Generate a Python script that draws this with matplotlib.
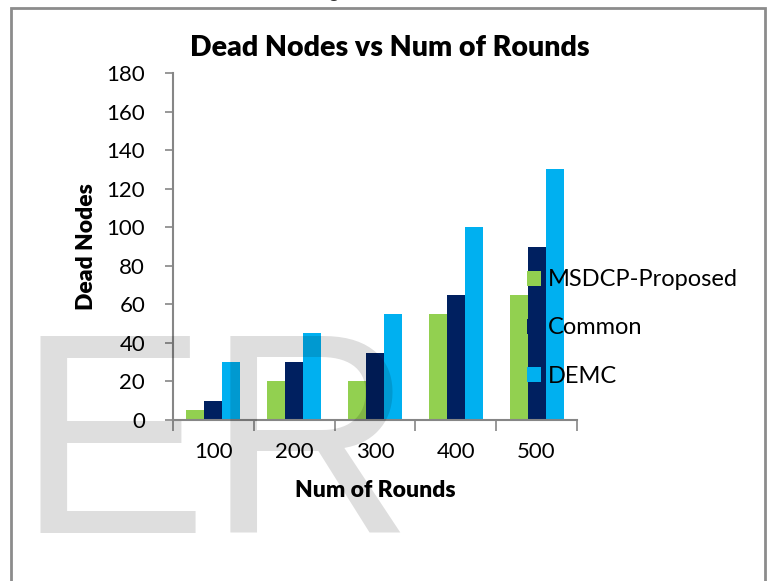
import matplotlib.pyplot as plt
import numpy as np
from matplotlib.patches import Rectangle

rounds = ['100', '200', '300', '400', '500']
msdcp = [5, 20, 20, 55, 65]
common = [10, 30, 35, 65, 90]
demc = [30, 45, 55, 100, 130]

plt.rcParams['font.family'] = ['Lato', 'DejaVu Sans']

fig = plt.figure(figsize=(7.7, 5.81), dpi=100)
ax = fig.add_axes([173/770, 1-420/581, 404/770, 347/581])

x = np.arange(len(rounds))
w = 1/4.5
ax.bar(x - w, msdcp, w, color='#92d050', label='MSDCP-Proposed')
ax.bar(x, common, w, color='#002060', label='Common')
ax.bar(x + w, demc, w, color='#00b0f0', label='DEMC')

ax.set_xlim(-0.5, len(rounds) - 0.5)
ax.set_ylim(0, 180)
ax.set_yticks(range(0, 181, 20))
ax.set_xticks(x)
ax.set_xticklabels(rounds)
ax.set_xticks(np.arange(-0.5, len(rounds)), minor=True)
ax.tick_params(axis='x', which='major', length=0, pad=16, labelsize=16)
ax.tick_params(axis='x', which='minor', length=8, width=1.2, color='#868686')
ax.tick_params(axis='y', length=6, width=1.2, color='#868686', pad=14, labelsize=16)
for s in ['top', 'right']:
    ax.spines[s].set_visible(False)
for s in ['left', 'bottom']:
    ax.spines[s].set_color('#868686')
    ax.spines[s].set_linewidth(1.5)

ax.set_xlabel('Num of Rounds', fontsize=16.5, fontweight='heavy', labelpad=13)
ax.set_ylabel('Dead Nodes', fontsize=16.5, fontweight='heavy', labelpad=7)
fig.text(390/770, 1-48/581, 'Dead Nodes vs Num of Rounds', fontsize=20.5,
         fontweight='heavy', ha='center', va='center')

leg = ax.legend(loc='center left', bbox_to_anchor=(527/770, 1-328/581),
                bbox_transform=fig.transFigure, frameon=False, fontsize=17,
                handlelength=0.6, handleheight=0.6, handletextpad=0.3,
                labelspacing=1.15, borderpad=0, borderaxespad=0)
leg.set_zorder(5)

# outer frame
fig.add_artist(Rectangle((11/770, -0.05), 754/770, 1.05 - 8/581,
                         transform=fig.transFigure, fill=False,
                         edgecolor='#8c8c8c', linewidth=2))

# cropped text fragment at top
fig.text(328/770, 1 + 2/581, 'g', fontsize=14, color='#333333', va='baseline')

# watermark
fig.text(16/770, 1-533/581, 'ER', fontsize=206, family='Liberation Sans',
         color='black', alpha=0.13, ha='left', va='baseline', zorder=10)

fig.savefig('out.png', dpi=100)
